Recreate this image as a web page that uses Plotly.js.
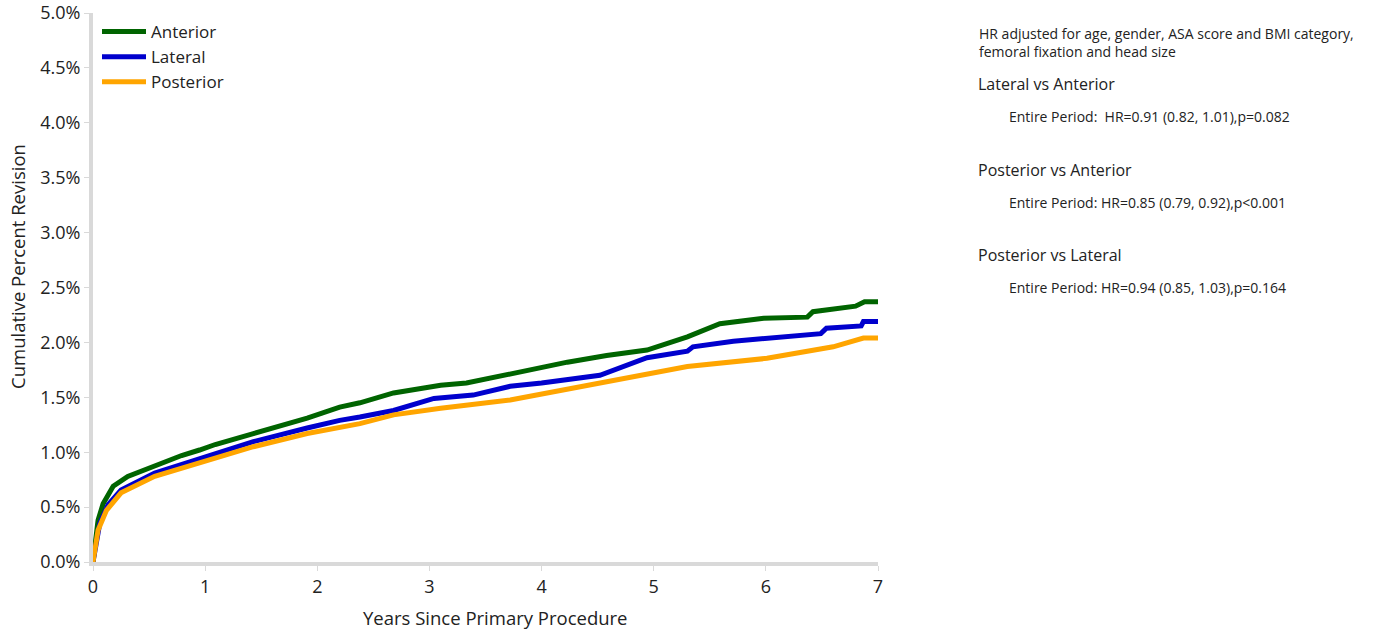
<!DOCTYPE html>
<html>
<head>
<meta charset="utf-8">
<script src="https://cdn.plot.ly/plotly-3.0.1.min.js"></script>
<style>html,body{margin:0;padding:0;background:#fff}#chart{width:1375px;height:632px}</style>
</head>
<body>
<div id="chart"></div>
<script>
// Anterior
const antX = [0, 0.045, 0.09, 0.18, 0.31, 0.55, 0.79, 0.95, 1.09, 1.43, 1.91, 2.20, 2.38, 2.68, 3.10, 3.33, 3.72, 4.00, 4.23, 4.58, 4.94, 5.30, 5.59, 5.98, 6.37, 6.42, 6.80, 6.88, 7.0];
const antY = [0, 0.38, 0.53, 0.69, 0.78, 0.88, 0.97, 1.02, 1.07, 1.17, 1.31, 1.41, 1.45, 1.54, 1.61, 1.63, 1.71, 1.77, 1.82, 1.88, 1.93, 2.05, 2.17, 2.22, 2.23, 2.28, 2.33, 2.37, 2.37];
// Lateral
const latX = [0, 0.06, 0.134, 0.25, 0.55, 0.85, 1.10, 1.43, 1.91, 2.20, 2.38, 2.68, 3.04, 3.39, 3.72, 4.00, 4.52, 4.94, 5.30, 5.35, 5.71, 6.49, 6.54, 6.85, 6.87, 7.0];
const latY = [0, 0.35, 0.52, 0.656, 0.81, 0.91, 0.99, 1.096, 1.22, 1.29, 1.32, 1.38, 1.49, 1.52, 1.60, 1.63, 1.70, 1.86, 1.92, 1.96, 2.01, 2.08, 2.13, 2.15, 2.19, 2.19];
// Posterior
const posX = [0, 0.045, 0.12, 0.25, 0.55, 0.85, 1.10, 1.43, 1.91, 2.20, 2.38, 2.68, 3.10, 3.72, 4.52, 5.30, 6.01, 6.60, 6.87, 7.0];
const posY = [0, 0.29, 0.47, 0.63, 0.78, 0.87, 0.94, 1.05, 1.17, 1.23, 1.26, 1.34, 1.40, 1.475, 1.63, 1.78, 1.855, 1.96, 2.04, 2.04];

const seriesNames = ['Anterior', 'Lateral', 'Posterior'];
const seriesColors = ['#006400', '#0000CD', '#FFA500'];

const xTicks = [0, 1, 2, 3, 4, 5, 6, 7];
const yTicks = [0, 0.5, 1, 1.5, 2, 2.5, 3, 3.5, 4, 4.5, 5];
const yTickText = ['0.0%','0.5%','1.0%','1.5%','2.0%','2.5%','3.0%','3.5%','4.0%','4.5%','5.0%'];
const xTitle = 'Years Since Primary Procedure';
const yTitle = 'Cumulative Percent Revision';

const headNote = 'HR adjusted for age, gender, ASA score and BMI category,<br>femoral fixation and head size';
const compTitles = ['Lateral vs Anterior', 'Posterior vs Anterior', 'Posterior vs Lateral'];
const compTexts = [
  'Entire Period:  HR=0.91 (0.82, 1.01),p=0.082',
  'Entire Period: HR=0.85 (0.79, 0.92),p<0.001',
  'Entire Period: HR=0.94 (0.85, 1.03),p=0.164'
];

const xs = [antX, latX, posX];
const ys = [antY, latY, posY];
const traces = seriesNames.map((n, i) => ({
  x: xs[i], y: ys[i], name: n, type: 'scatter', mode: 'lines',
  line: {color: seriesColors[i], width: 5}
}));

const FONT = '"Open Sans", "Noto Sans", sans-serif';
const L = 93, R = 878, T = 13, B = 562;
const px = v => (v - L) / (R - L);
const py = v => (B - v) / (B - T);

const ann = [];
ann.push({xref:'paper', yref:'paper', x: px(977), y: py(42), xanchor:'left', yanchor:'middle', align:'left',
  text: headNote, showarrow:false, font:{family:FONT, size:14, color:'#222'}});
const titleYs = [84, 170, 255];
const textYs = [116, 202, 287];
compTitles.forEach((t, i) => {
  ann.push({xref:'paper', yref:'paper', x: px(976), y: py(titleYs[i]), xanchor:'left', yanchor:'middle',
    text: t, showarrow:false, font:{family:FONT, size:16, color:'#222'}});
  ann.push({xref:'paper', yref:'paper', x: px(1007), y: py(textYs[i]), xanchor:'left', yanchor:'middle',
    text: compTexts[i], showarrow:false, font:{family:FONT, size:14, color:'#222'}});
});
// axis titles
ann.push({xref:'paper', yref:'paper', x: px(495), y: py(617), xanchor:'center', yanchor:'middle',
  text: xTitle, showarrow:false, font:{family:FONT, size:18.5, color:'#222'}});
ann.push({xref:'paper', yref:'paper', x: px(17), y: py(267), xanchor:'center', yanchor:'middle', textangle:-90,
  text: yTitle, showarrow:false, font:{family:FONT, size:18.5, color:'#222'}});

const layout = {
  width: 1375, height: 632,
  margin: {l: L, r: 1375 - R, t: T, b: 632 - B},
  paper_bgcolor: '#fff', plot_bgcolor: '#fff',
  font: {family: FONT, color: '#222', size: 18},
  showlegend: true,
  legend: {x: px(97), y: py(14), xanchor:'left', yanchor:'top', bgcolor:'rgba(0,0,0,0)',
    font:{family:FONT, size:17, color:'#222'}, itemwidth: 44, tracegroupgap: 0},
  xaxis: {
    range: [0, 7], tickvals: xTicks, ticktext: xTicks.map(String),
    showgrid: false, zeroline: false, showline: true, linecolor: '#d9d9d9', linewidth: 4,
    ticks: 'outside', ticklen: 5, tickcolor: '#d9d9d9', tickwidth: 1,
    tickfont: {family: FONT, size: 18, color: '#222'}
  },
  yaxis: {
    range: [0, 5], tickvals: yTicks, ticktext: yTickText,
    showgrid: false, zeroline: false, showline: true, linecolor: '#d9d9d9', linewidth: 4,
    ticks: 'outside', ticklen: 5, tickcolor: '#d9d9d9', tickwidth: 1,
    tickfont: {family: FONT, size: 18, color: '#222'}
  },
  annotations: ann
};

Plotly.newPlot('chart', traces, layout, {displayModeBar: false, staticPlot: true});
</script>
</body>
</html>
